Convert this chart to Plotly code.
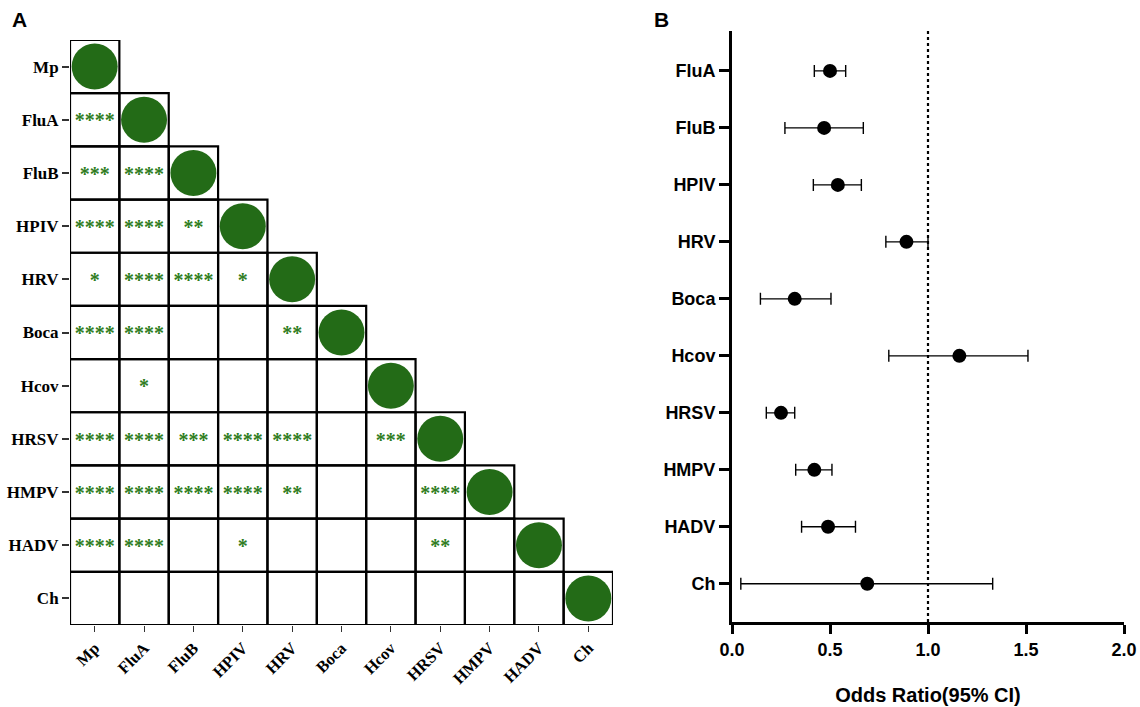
import plotly.graph_objects as go

# ---------------- data ----------------
viruses_a = ["Mp", "FluA", "FluB", "HPIV", "HRV", "Boca", "Hcov", "HRSV", "HMPV", "HADV", "Ch"]
# significance stars, row i lists columns 0..i-1 (lower triangle)
stars_mp = []
stars_flua = ["****"]
stars_flub = ["***", "****"]
stars_hpiv = ["****", "****", "**"]
stars_hrv = ["*", "****", "****", "*"]
stars_boca = ["****", "****", "", "", "**"]
stars_hcov = ["", "*", "", "", "", ""]
stars_hrsv = ["****", "****", "***", "****", "****", "", "***"]
stars_hmpv = ["****", "****", "****", "****", "**", "", "", "****"]
stars_hadv = ["****", "****", "", "*", "", "", "", "**", ""]
stars_ch = ["", "", "", "", "", "", "", "", "", ""]
star_rows = [stars_mp, stars_flua, stars_flub, stars_hpiv, stars_hrv, stars_boca,
             stars_hcov, stars_hrsv, stars_hmpv, stars_hadv, stars_ch]

or_labels = ["FluA", "FluB", "HPIV", "HRV", "Boca", "Hcov", "HRSV", "HMPV", "HADV", "Ch"]
or_value = [0.50, 0.47, 0.54, 0.89, 0.32, 1.16, 0.25, 0.42, 0.49, 0.69]
ci_low = [0.42, 0.27, 0.415, 0.785, 0.145, 0.80, 0.175, 0.325, 0.355, 0.045]
ci_high = [0.58, 0.67, 0.66, 1.00, 0.505, 1.51, 0.32, 0.51, 0.63, 1.33]

# ---------------- figure ----------------
W, H = 1140, 707
GREEN = "#236b17"
STAR_GREEN = "#2f7d22"
SERIF = "Liberation Serif"
SANS = "Liberation Sans"
STAR_DROP = 0.05  # small visual nudge so asterisks sit at the cell centre

def px_x(p):
    return p / W

def px_y(p):
    return 1 - p / H

fig = go.Figure()

n = len(viruses_a)
# diagonal circles
fig.add_trace(go.Scatter(
    x=list(range(n)), y=list(range(n)), mode="markers",
    marker=dict(size=46, color=GREEN, line=dict(width=0)),
    xaxis="x", yaxis="y", hoverinfo="skip", showlegend=False))

# stars
sx, sy, st = [], [], []
for i, row in enumerate(star_rows):
    for j, s in enumerate(row):
        if s:
            sx.append(j)
            sy.append(i + STAR_DROP)
            st.append(s)
fig.add_trace(go.Scatter(
    x=sx, y=sy, mode="text", text=st, textposition="middle center",
    textfont=dict(family=SERIF, size=20, color=STAR_GREEN, weight="bold"),
    xaxis="x", yaxis="y", hoverinfo="skip", showlegend=False))

shapes = []
for i in range(n):
    for j in range(i + 1):
        shapes.append(dict(type="rect", xref="x", yref="y",
                           x0=j - 0.5, x1=j + 0.5, y0=i - 0.5, y1=i + 0.5,
                           line=dict(color="black", width=2.2), layer="below"))

# panel B
yb = list(range(len(or_labels)))
fig.add_trace(go.Scatter(
    x=or_value, y=yb, mode="markers",
    marker=dict(size=14, color="black"),
    error_x=dict(type="data", symmetric=False,
                 array=[h - v for h, v in zip(ci_high, or_value)],
                 arrayminus=[v - l for v, l in zip(or_value, ci_low)],
                 color="black", thickness=1.4, width=6),
    xaxis="x2", yaxis="y2", hoverinfo="skip", showlegend=False))

shapes.append(dict(type="line", xref="x2", yref="y2 domain", x0=1, x1=1, y0=0, y1=1,
                   line=dict(color="black", width=2.2, dash="dot")))

fig.update_layout(
    width=W, height=H, autosize=False,
    margin=dict(l=0, r=0, t=0, b=0),
    paper_bgcolor="white", plot_bgcolor="white",
    shapes=shapes,
    xaxis=dict(domain=[px_x(70), px_x(613)], range=[-0.5, n - 0.5],
               tickmode="array", tickvals=list(range(n)), ticktext=viruses_a,
               tickangle=-45, ticks="outside", ticklen=6, tickwidth=1.2, tickcolor="#333",
               tickfont=dict(family=SERIF, size=16.5, color="black", weight="bold"),
               showgrid=False, zeroline=False, showline=False, anchor="y", automargin=False),
    yaxis=dict(domain=[px_y(625), px_y(40)], range=[n - 0.5, -0.5],
               tickmode="array", tickvals=list(range(n)), ticktext=viruses_a,
               ticks="outside", ticklen=7, tickwidth=1.5, tickcolor="#333",
               tickfont=dict(family=SERIF, size=17, color="black", weight="bold"),
               showgrid=False, zeroline=False, showline=False, anchor="x", automargin=False),
    xaxis2=dict(domain=[px_x(732), px_x(1124)], range=[0, 2],
                tickmode="array", tickvals=[0, 0.5, 1.0, 1.5, 2.0],
                ticktext=["0.0", "0.5", "1.0", "1.5", "2.0"],
                ticks="outside", ticklen=9, tickwidth=3, tickcolor="black",
                showline=True, linewidth=3, linecolor="black",
                tickfont=dict(family=SANS, size=18, color="black", weight="bold"),
                title=dict(text="Odds Ratio(95% CI)", standoff=30,
                           font=dict(family=SANS, size=20, color="black", weight="bold")),
                showgrid=False, zeroline=False, anchor="y2", automargin=False),
    yaxis2=dict(domain=[px_y(622), px_y(31)], range=[9.67, -0.70],
                tickmode="array", tickvals=yb, ticktext=or_labels,
                ticks="outside", ticklen=10, tickwidth=3, tickcolor="black",
                showline=True, linewidth=3, linecolor="black",
                tickfont=dict(family=SANS, size=18, color="black", weight="bold"),
                showgrid=False, zeroline=False, anchor="x2", automargin=False),
    annotations=[
        dict(text="<b>A</b>", x=px_x(19), y=px_y(20), xref="paper", yref="paper",
             xanchor="center", yanchor="middle",
             showarrow=False, font=dict(family=SANS, size=21, color="black")),
        dict(text="<b>B</b>", x=px_x(661), y=px_y(20), xref="paper", yref="paper",
             xanchor="center", yanchor="middle",
             showarrow=False, font=dict(family=SANS, size=21, color="black")),
    ],
)

fig.write_html("out.html", config={"displayModeBar": False},
               post_script="document.body.style.margin='0';document.body.style.overflow='hidden';")
